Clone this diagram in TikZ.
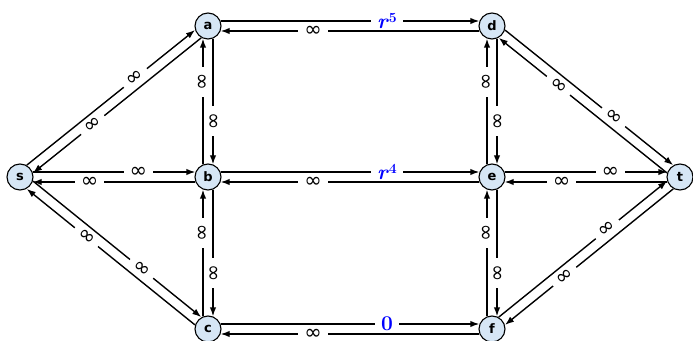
\documentclass[tikz,border=0pt]{standalone}
\usepackage{fontspec}
\usetikzlibrary{calc,arrows.meta}
\newfontfamily\nodefont{DejaVu Sans}
\definecolor{nodeblue}{RGB}{214,230,245}
\tikzset{
  vert/.style={circle, draw, line width=1.1pt, fill=nodeblue, minimum size=26pt, inner sep=0pt,
    font=\nodefont\bfseries\fontsize{13}{13}\selectfont},
  edge/.style={line width=1.4pt, -{Latex[length=9pt,width=6.5pt]}, shorten <=12.7pt, shorten >=12.7pt},
  lab/.style={fill=white, sloped, pos=0.63, inner xsep=6pt, inner ysep=0pt,
    font=\nodefont\fontsize{21}{21}\selectfont},
  blab/.style={lab, text=blue, inner xsep=6pt, font=\fontsize{21}{21}\selectfont}
}
\newcommand\biedge[4]{%
  \draw[edge] ($(v#1)!5pt!90:(v#2)$) -- node[lab]{#3} ($(v#2)!5pt!-90:(v#1)$);
  \draw[edge] ($(v#2)!5pt!90:(v#1)$) -- node[lab]{#4} ($(v#1)!5pt!-90:(v#2)$);
}
\newcommand\inft{∞}
\newcommand\bmr[1]{\textbf{\textit{r}}\raisebox{0.6ex}{\fontsize{14}{14}\selectfont\bfseries #1}}
\begin{document}
\begin{tikzpicture}[x=1pt,y=1pt]
\useasboundingbox (0,0) rectangle (693,340);
\node[vert] (vs) at (20,163) {s};
\node[vert] (va) at (208,314) {a};
\node[vert] (vb) at (208,163) {b};
\node[vert] (vc) at (208,11) {c};
\node[vert] (vd) at (492,314) {d};
\node[vert] (ve) at (492,163) {e};
\node[vert] (vf) at (492,11) {f};
\node[vert] (vt) at (680,163) {t};
\biedge{s}{a}{\inft}{\inft}
\biedge{s}{b}{\inft}{\inft}
\biedge{s}{c}{\inft}{\inft}
\biedge{a}{b}{\inft}{\inft}
\biedge{b}{c}{\inft}{\inft}
\draw[edge] ($(va)!5pt!90:(vd)$) -- node[blab]{\bmr{5}} ($(vd)!5pt!-90:(va)$);
\draw[edge] ($(vd)!5pt!90:(va)$) -- node[lab]{\inft} ($(va)!5pt!-90:(vd)$);
\draw[edge] ($(vb)!5pt!90:(ve)$) -- node[blab]{\bmr{4}} ($(ve)!5pt!-90:(vb)$);
\draw[edge] ($(ve)!5pt!90:(vb)$) -- node[lab]{\inft} ($(vb)!5pt!-90:(ve)$);
\draw[edge] ($(vc)!5pt!90:(vf)$) -- node[blab]{\bfseries 0} ($(vf)!5pt!-90:(vc)$);
\draw[edge] ($(vf)!5pt!90:(vc)$) -- node[lab]{\inft} ($(vc)!5pt!-90:(vf)$);
\biedge{d}{e}{\inft}{\inft}
\biedge{e}{f}{\inft}{\inft}
\biedge{d}{t}{\inft}{\inft}
\biedge{e}{t}{\inft}{\inft}
\biedge{f}{t}{\inft}{\inft}
\end{tikzpicture}
\end{document}
